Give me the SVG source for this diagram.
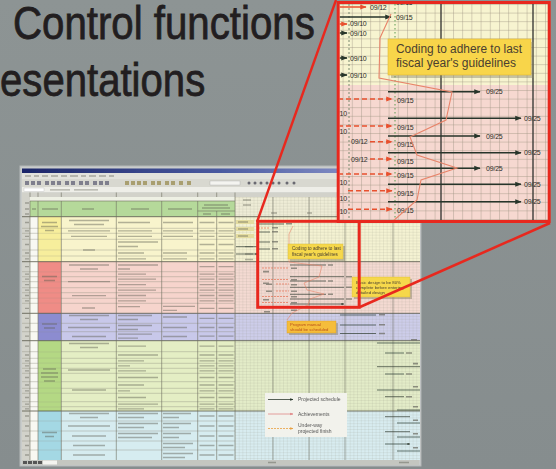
<svg xmlns="http://www.w3.org/2000/svg" width="556" height="469" viewBox="0 0 556 469">
<defs>
<style>
.title{font-family:"Liberation Sans","Open Sans",sans-serif;fill:#221e20;stroke:#221e20;stroke-width:0.8;font-size:47px}
.lbl{font-family:"Liberation Sans","Noto Sans",sans-serif;font-size:7px;fill:#2e2e28;letter-spacing:-0.2px}
.zl{fill:none;stroke:#e8281e;stroke-width:3}
.sol{stroke:#27352a;stroke-width:1.6;fill:none;marker-end:url(#ah)}
.rsol{stroke:#e8502e;stroke-width:1.6;fill:none;marker-end:url(#ahr)}
.dsh{stroke:#e8502e;stroke-width:1.6;fill:none;stroke-dasharray:5 3;marker-end:url(#ahr)}
.msol{stroke:#2f3b30;stroke-width:0.7;fill:none;marker-end:url(#ah)}
.mdsh{stroke:#e8603e;stroke-width:0.6;fill:none;stroke-dasharray:2 1}
.tb{stroke:#5e5e52;stroke-width:1.3;opacity:0.45;fill:none}
.rowl{stroke:#8f8f80;stroke-width:0.4;fill:none}
.coll{stroke:#6e6e60;stroke-width:0.6;fill:none}
.grp{stroke:#555548;stroke-width:0.8;fill:none}
.mb{fill:#6a6a60;opacity:0.7}
.call{font-family:"Liberation Sans","Noto Sans",sans-serif;fill:#4a4030}
.leg{font-family:"Liberation Sans","Noto Sans",sans-serif;font-size:5px;fill:#555}
</style>
<marker id="ah" viewBox="0 0 10 10" refX="9" refY="5" markerWidth="4" markerHeight="4" orient="auto"><path d="M0,1L10,5L0,9z" fill="#27352a"/></marker>
<marker id="ahr" viewBox="0 0 10 10" refX="9" refY="5" markerWidth="4" markerHeight="4" orient="auto"><path d="M0,1L10,5L0,9z" fill="#e8502e"/></marker>
<marker id="ahp" viewBox="0 0 10 10" refX="9" refY="5" markerWidth="4" markerHeight="4" orient="auto"><path d="M0,1L10,5L0,9z" fill="#e08888"/></marker>
<marker id="aho" viewBox="0 0 10 10" refX="9" refY="5" markerWidth="4" markerHeight="4" orient="auto"><path d="M0,1L10,5L0,9z" fill="#e8a040"/></marker>
<linearGradient id="bg" x1="0" y1="0" x2="0" y2="1"><stop offset="0" stop-color="#8d9494"/><stop offset="1" stop-color="#868d8e"/></linearGradient>
<linearGradient id="tbar" x1="0" y1="0" x2="1" y2="0"><stop offset="0" stop-color="#1c2668"/><stop offset="0.5" stop-color="#4a5aa0"/><stop offset="1" stop-color="#a0a8d8"/></linearGradient>
<pattern id="gg" width="3.7" height="2.9" patternUnits="userSpaceOnUse" x="235" y="197"><path d="M0,0V2.9M0,0H3.7" stroke="#8c8c7c" stroke-width="0.35" opacity="0.7" fill="none"/></pattern>
<pattern id="ig" width="9.2" height="8.6" patternUnits="userSpaceOnUse" x="342.6" y="4"><path d="M0.5,0V8.6M0,0.5H9.2" stroke="#9c9480" stroke-width="0.8" opacity="0.5" fill="none"/></pattern>
<clipPath id="ic"><rect x="339.7" y="4" width="209.5" height="217.5"/></clipPath>
<filter id="soft" x="-2%" y="-2%" width="104%" height="104%"><feGaussianBlur stdDeviation="0.3"/></filter>
</defs>

<rect width="556" height="469" fill="url(#bg)"/>

<g id="title">
<text class="title" transform="matrix(0.856,0,0,1,13,39)" x="0" y="0">Control functions</text>
<text class="title" transform="matrix(0.854,0,0,1,0,96)" x="0" y="0">esentations</text>
</g>

<g id="spreadsheet" filter="url(#soft)">
<rect x="20" y="166" width="401" height="300" fill="#c9cccb" stroke="#b4b8b8"/>
<rect x="22" y="168.5" width="397" height="4.5" fill="url(#tbar)"/>
<rect x="22" y="173" width="397" height="6" fill="#e2e2dc"/>
<path class="tb" d="M25,176h6M34,176h5M42,176h6M51,176h7M61,176h6M70,176h8M81,176h5M89,176h7M99,176h7M109,176h5"/>
<rect x="22" y="179" width="397" height="8" fill="#d8d8d0"/>
<path d="M25,181h4v4h-4zM31,181h4v4h-4zM37,181h4v4h-4zM45,181h4v4h-4zM51,181h4v4h-4zM57,181h4v4h-4zM65,181h4v4h-4zM71,181h4v4h-4zM79,181h4v4h-4zM85,181h4v4h-4zM93,181h4v4h-4zM99,181h4v4h-4zM105,181h4v4h-4z" fill="#5a5a70" opacity="0.7"/>
<path d="M125,181h4v4h-4zM131,181h4v4h-4zM137,181h4v4h-4zM143,181h4v4h-4zM151,181h4v4h-4zM157,181h4v4h-4zM165,181h4v4h-4zM171,181h4v4h-4zM179,181h4v4h-4zM187,181h4v4h-4z" fill="#8a7a30" opacity="0.6"/>
<rect x="210" y="181" width="30" height="4" fill="#f4f4f0" stroke="#999" stroke-width="0.3"/>
<path d="M249,183m-1.5,0a1.5,1.5 0 1,0 3,0a1.5,1.5 0 1,0 -3,0M255,183m-1.5,0a1.5,1.5 0 1,0 3,0a1.5,1.5 0 1,0 -3,0M261,183m-1.5,0a1.5,1.5 0 1,0 3,0a1.5,1.5 0 1,0 -3,0M267,183m-1.5,0a1.5,1.5 0 1,0 3,0a1.5,1.5 0 1,0 -3,0M273,183m-1.5,0a1.5,1.5 0 1,0 3,0a1.5,1.5 0 1,0 -3,0M279,183m-1.5,0a1.5,1.5 0 1,0 3,0a1.5,1.5 0 1,0 -3,0M287,183m-1.5,0a1.5,1.5 0 1,0 3,0a1.5,1.5 0 1,0 -3,0M294,183m-1.5,0a1.5,1.5 0 1,0 3,0a1.5,1.5 0 1,0 -3,0" fill="#3a3a48" opacity="0.7"/>
<rect x="22" y="187" width="397" height="5.5" fill="#eeeee8"/>
<rect x="24" y="188" width="20" height="3.5" fill="#fff" stroke="#aaa" stroke-width="0.3"/>
<path class="tb" d="M50,189.8h20M74,189.8h24"/>
<rect x="22" y="192.5" width="397" height="4.5" fill="#d2d2ca"/>
<path class="coll" d="M30,192.5V197M38,192.5V197M61.3,192.5V197M116.3,192.5V197M161.7,192.5V197M197.7,192.5V197M216.7,192.5V197M235,192.5V197"/>
<rect x="22" y="197" width="8" height="263" fill="#d2d2ca"/>
<rect x="30" y="197" width="205" height="4" fill="#eef0e4"/>
<rect x="30" y="201" width="205" height="15.7" fill="#b5d99a"/>
<path class="coll" d="M30,201H235M197.7,211H235"/>
<path class="tb" d="M32,209h4M42,209h16M82,209h12M131,209h18M168,209h24M204,205h24M202,208h28M203,214h8M221,214h9"/>

<rect x="30" y="216.7" width="8" height="243.3" fill="#f8f8f2"/>
<rect x="38" y="216.7" width="23.3" height="45" fill="#f7ee9c"/>
<rect x="61.3" y="216.7" width="173.7" height="45" fill="#f8f4cc"/>
<rect x="38" y="261.7" width="23.3" height="51.6" fill="#ef8c86"/>
<rect x="61.3" y="261.7" width="173.7" height="51.6" fill="#f6d4cc"/>
<rect x="38" y="313.3" width="23.3" height="27.4" fill="#8c8cd0"/>
<rect x="61.3" y="313.3" width="173.7" height="27.4" fill="#c8c8ea"/>
<rect x="38" y="340.7" width="23.3" height="70.3" fill="#b4d884"/>
<rect x="61.3" y="340.7" width="173.7" height="70.3" fill="#e4eec4"/>
<rect x="38" y="411" width="23.3" height="49" fill="#a4d8e4"/>
<rect x="61.3" y="411" width="173.7" height="49" fill="#d6ecf0"/>

<rect x="235" y="197" width="185" height="19.7" fill="#eeecd6"/>
<rect x="235" y="216.7" width="185" height="45" fill="#f4f2d2"/>
<rect x="235" y="261.7" width="185" height="51.6" fill="#f4dad2"/>
<rect x="235" y="313.3" width="185" height="27.4" fill="#cdcdea"/>
<rect x="235" y="340.7" width="185" height="70.3" fill="#e3ecc8"/>
<rect x="235" y="411" width="185" height="49" fill="#d8ecf0"/>
<rect x="235" y="197" width="185" height="263" fill="url(#gg)"/>
<path d="M273,197V460M309,197V460M345,197V460M393,197V460" stroke="#6a6a60" stroke-width="0.7" opacity="0.8"/>

<path class="rowl" d="M22,228.3H235M22,233.3H235M22,239.3H235M22,250H235M22,256H235M22,271.7H235M22,276.7H235M22,281.7H235M22,287.7H235M22,292.7H235M22,298.3H235M22,303.3H235M22,323.3H235M22,331.7H235M22,351.7H235M22,358.3H235M22,363.3H235M22,368.3H235M22,373.3H235M22,381.7H235M22,388.3H235M22,393.3H235M22,401.7H235M22,406.7H235M22,421H235M22,431H235M22,441H235M22,450H235"/>
<path d="M38.2,228H61M38.2,233H61M38.2,239H61M38.2,250H61M38.2,256H61" stroke="#f7ee9c" stroke-width="0.8"/>
<path d="M38.2,271.7H61M38.2,276.7H61M38.2,281.7H61M38.2,287.7H61M38.2,292.7H61M38.2,298.3H61M38.2,303.3H61" stroke="#ef8c86" stroke-width="0.8"/>
<path d="M38.2,323.3H61M38.2,331.7H61" stroke="#8c8cd0" stroke-width="0.8"/>
<path d="M38.2,351.7H61M38.2,358.3H61M38.2,363.3H61M38.2,368.3H61M38.2,373.3H61M38.2,381.7H61M38.2,388.3H61M38.2,393.3H61M38.2,401.7H61M38.2,406.7H61" stroke="#b4d884" stroke-width="0.8"/>
<path d="M38.2,421H61M38.2,431H61M38.2,441H61M38.2,450H61" stroke="#a4d8e4" stroke-width="0.8"/>
<path class="grp" d="M22,216.7H420M22,261.7H420M22,313.3H420M22,340.7H420M22,411H420"/>
<path class="coll" d="M30,201V460M38,201V460M61.3,201V460M116.3,201V460M161.7,201V460M197.7,201V460M216.7,211V460M235,197V460"/>

<path class="tb" d="M42,222.5h15M41,226.5h17M45,230.5h9M42,276.5h15M44,280.5h11M42,324h15M44,328h11M43,369h13M41,373h17M41,377h17M44,381h11M42,432.5h15M45,436.5h9"/>
<path class="tb" d="M69,220.5h40M74,224.5h30M68,230.8h42M71,236.3h36M83,250h12M69,265h40M80,269h18M68,281.7h42M72,295.7h34M82,308h13M69,315.5h40M80,319.5h18M68,327.5h42M72,336.5h34M69,343.5h40M80,347.5h18M68,370h42M72,390h34M69,413.5h40M80,417.5h18M68,426h42M72,436h34M73,445.5h32M73,455h32"/>
<path class="tb" d="M118,222.5h32M118,230.8h34M118,236.3h34M118,242h40M118,246.5h20M118,253h26M118,258.8h28M118,265h40M118,269h12M118,274.2h28M118,279.2h38M118,284.7h28M118,290.2h38M118,295.5h28M118,300.8h28M118,306.7h22M118,315.5h34M118,319.5h20M118,325.5h34M118,329.5h20M118,334.2h34M118,338.2h20M118,346.2h28M118,355h40M118,360.8h26M118,365.8h12M118,370.8h28M118,377.5h40M118,385h26M118,390.8h12M118,397.5h28M118,404.2h40M118,408.8h26M118,413.5h40M118,417.5h26M118,423.5h40M118,427.5h26M118,433.5h40M118,437.5h34"/>
<path class="tb" d="M163,222.5h30M163,230.8h30M163,236.3h30M163,253h24M163,258.8h24M163,306.3h32M163,310.3h14M163,317h24M163,327.5h24M163,336.5h24M163,413.5h28M163,417.5h16M163,423.5h28M163,427.5h16M163,433.5h28M163,437.5h16M163,443.5h30M163,447.5h22M163,453.5h30M163,457.5h22"/>
<path class="tb" d="M199.5,222.5h15M199.5,230.8h15M199.5,236.3h15M199.5,244.5h15M199.5,253h15M199.5,258.8h15M199.5,266.7h15M199.5,274.2h15M199.5,279.2h15M199.5,284.7h15M199.5,290.2h15M199.5,295.5h15M199.5,300.8h15M199.5,308.3h15M199.5,318.3h15M199.5,327.5h15M199.5,336.2h15M199.5,346.2h15M199.5,355h15M199.5,360.8h15M199.5,365.8h15M199.5,370.8h15M199.5,377.5h15M199.5,385h15M199.5,390.8h15M199.5,397.5h15M199.5,404.2h15M199.5,408.8h15M199.5,416h15M199.5,426h15M199.5,436h15M199.5,445.5h15M199.5,455h15"/>
<path class="tb" d="M218.5,222.5h15M218.5,230.8h15M218.5,236.3h15M218.5,244.5h15M218.5,253h15M218.5,258.8h15M218.5,266.7h15M218.5,274.2h15M218.5,279.2h15M218.5,284.7h15M218.5,290.2h15M218.5,295.5h15M218.5,300.8h15M218.5,308.3h15M218.5,318.3h15M218.5,327.5h15M218.5,336.2h15M218.5,346.2h15M218.5,355h15M218.5,360.8h15M218.5,365.8h15M218.5,370.8h15M218.5,377.5h15M218.5,385h15M218.5,390.8h15M218.5,397.5h15M218.5,404.2h15M218.5,408.8h15M218.5,416h15M218.5,426h15M218.5,436h15M218.5,445.5h15M218.5,455h15"/>
<path class="tb" d="M25,222.5h4M25,230.8h4M25,236.3h4M25,244.5h4M25,253h4M25,258.8h4M25,266.7h4M25,274.2h4M25,279.2h4M25,284.7h4M25,290.2h4M25,295.5h4M25,300.8h4M25,308.3h4M25,318.3h4M25,327.5h4M25,336.2h4M25,346.2h4M25,355h4M25,360.8h4M25,365.8h4M25,370.8h4M25,377.5h4M25,385h4M25,390.8h4M25,397.5h4M25,404.2h4M25,408.8h4M25,416h4M25,426h4M25,436h4M25,445.5h4M25,455h4M25,203h4M25,209h4M25,214h4"/>

<rect x="236" y="220" width="18" height="4" fill="#e4dca0"/>
<rect x="236" y="227" width="18" height="4" fill="#e4dca0"/>
<rect x="236" y="234" width="18" height="4" fill="#e4dca0"/>
<path class="tb" d="M238,222h10M238,229h10M238,236h10M245,246.7h8M245,254h8M245,259.5h8M271,213h6M307,213h5M243,200h8M243,205h8"/>
<path class="msol" d="M236,246.7H258M236,254H258"/>

<path class="msol" d="M258,224H284M258,232H270M258,242H270M258,249H270M290,265H326M290,276.7H344M290,281H326M290,287.3H344M290,294.3H326M290,299H344M290,304H344"/>
<path class="mdsh" d="M258,228H270M262,268H289M262,279.5H289M276,284H289M276,291H289M262,296.5H289M262,302.5H289"/>
<path class="mb" d="M272,227h6v1.6h-6zM272,231h6v1.6h-6zM272,241h6v1.6h-6zM272,248h6v1.6h-6zM286,223h6v1.6h-6zM291,267.5h6v1.6h-6zM291,279h6v1.6h-6zM291,284h6v1.6h-6zM291,290.5h6v1.6h-6zM291,296h6v1.6h-6zM291,302h6v1.6h-6zM328,264.2h5v1.6h-5zM328,280.2h5v1.6h-5zM328,293.5h5v1.6h-5zM346,275.9h6v1.6h-6zM346,286.5h6v1.6h-6zM346,298.2h6v1.6h-6zM263,270.8h6v1.6h-6zM263,282.5h6v1.6h-6zM266,283.5h6v1.6h-6zM266,290.5h6v1.6h-6zM263,299h6v1.6h-6zM291,309.5h6v1.6h-6zM264,311h6v1.6h-6z"/>
<polyline points="293,226 289,234 289,262 322,266 319,277 304,283 307,290 324,294 310,299 308,305 292,313 287,320" fill="none" stroke="#e8846a" stroke-width="0.6"/>
</g>

<g id="callout-mini" filter="url(#soft)">
<rect x="290" y="246" width="55" height="15" fill="#8a8468" opacity="0.5"/>
<rect x="288" y="244" width="55" height="15" fill="#f6d84c" stroke="#d8b838" stroke-width="0.4"/>
<text class="call" x="292" y="250" font-size="4.6">Coding to adhere to last</text>
<text class="call" x="292" y="256" font-size="4.6">fiscal year's guidelines</text>
</g>

<g id="callout-80" filter="url(#soft)">
<rect x="354" y="279" width="58" height="20" fill="#8a8468" opacity="0.5"/>
<rect x="352" y="277" width="58" height="20" fill="#f6d84c" stroke="#d8b838" stroke-width="0.4"/>
<text class="call" x="356" y="283.5" font-size="4.3">Basic design to be 80%</text>
<text class="call" x="356" y="288.5" font-size="4.3">complete before entering</text>
<text class="call" x="356" y="293.5" font-size="4.3">detailed design</text>
</g>

<g id="callout-program" filter="url(#soft)">
<rect x="289" y="323" width="49" height="12" fill="#8a8468" opacity="0.5"/>
<rect x="287" y="321" width="49" height="12" fill="#f5bd3a" stroke="#d89a28" stroke-width="0.4"/>
<text class="call" x="290" y="326.3" font-size="4.2" style="fill:#b8501a">Program manual</text>
<text class="call" x="290" y="331.3" font-size="4.2" style="fill:#b8501a">should be scheduled</text>
</g>

<g id="gantt-lower" filter="url(#soft)">
<path class="msol" d="M340,315H376M340,325H376M340,333.5H376M385,353H404M385,374H404M385,396.7H404M385,416.7H410M385,431.7H410M385,444H410"/>
<path d="M377,343H420M377,366.7H420M377,390H420M397,410H420M397,423H420M397,437H420M397,451H420" stroke="#2f3b30" stroke-width="0.7"/>
<path class="mb" d="M379,314h6v1.6h-6zM379,324h6v1.6h-6zM379,332.7h6v1.6h-6zM411,339h6v1.6h-6zM406,352.2h6v1.6h-6zM413,362.8h5v1.6h-5zM406,373.2h6v1.6h-6zM413,386h5v1.6h-5zM406,395.9h6v1.6h-6zM413,406h5v1.6h-5zM413,419.5h5v1.6h-5zM413,433h5v1.6h-5zM413,447h5v1.6h-5z"/>
</g>

<g id="legend" filter="url(#soft)">
<rect x="265" y="393" width="82" height="44" fill="#f2f2ec"/>
<line x1="268" y1="399.5" x2="293" y2="399.5" stroke="#2f3b30" stroke-width="0.8" marker-end="url(#ah)"/>
<line x1="268" y1="414" x2="293" y2="414" stroke="#e08888" stroke-width="0.8" marker-end="url(#ahp)"/>
<line x1="268" y1="428.5" x2="293" y2="428.5" stroke="#e8a040" stroke-width="0.8" stroke-dasharray="2 1" marker-end="url(#aho)"/>
<text class="leg" x="298" y="401.3">Projected schedule</text>
<text class="leg" x="298" y="415.8">Achievements</text>
<text class="leg" x="298" y="427">Under-way</text>
<text class="leg" x="298" y="432.5">projected finish</text>
</g>

<g id="statusbar" filter="url(#soft)">
<rect x="22" y="460" width="397" height="5" fill="#c4c6c0"/>
<path d="M23,461h4v3h-4zM28,461h4v3h-4zM33,461h4v3h-4zM38,461h4v3h-4z" fill="#555"/>
<rect x="43" y="460.5" width="14" height="4" fill="#f4f4f0"/>
<path class="tb" d="M268,462.5h8M399,462.5h10"/>
</g>

<g id="zoom-connectors">
<line x1="336" y1="0" x2="257" y2="222" stroke="#e8281e" stroke-width="2.4"/>
<line x1="550" y1="223" x2="360" y2="307" stroke="#e8281e" stroke-width="2.6"/>
<rect class="zl" x="257.7" y="221.3" width="101.5" height="86"/>
</g>

<g id="inset">
<rect x="338.2" y="2.5" width="211" height="219" fill="#f7f4d0"/>
<rect x="338.2" y="85" width="211" height="137" fill="#f6d8d0"/>
<g clip-path="url(#ic)">
<rect x="338.2" y="2.5" width="211" height="219" fill="url(#ig)"/>
<line x1="441" y1="0" x2="441" y2="225" stroke="#3c3c38" stroke-width="1.4"/>
<line x1="533" y1="0" x2="533" y2="225" stroke="#3c3c38" stroke-width="1.4"/>
<line x1="349" y1="0" x2="349" y2="225" stroke="#7a8a70" stroke-width="1" stroke-dasharray="2 2"/>
<line x1="395" y1="0" x2="395" y2="225" stroke="#5a9a50" stroke-width="1" stroke-dasharray="1.5 2.5"/>

<line class="rsol" x1="330" y1="7" x2="366" y2="7"/>
<line class="sol" x1="330" y1="17" x2="391" y2="17"/>
<line class="rsol" x1="330" y1="24" x2="347" y2="24"/>
<line class="sol" x1="330" y1="33" x2="347" y2="33"/>
<line class="sol" x1="330" y1="58" x2="347" y2="58"/>
<line class="sol" x1="330" y1="75" x2="347" y2="75"/>
<text class="lbl" x="396" y="4.5">09/15</text>
<text class="lbl" x="370" y="9.5">09/12</text>
<text class="lbl" x="396" y="19.5">09/15</text>
<text class="lbl" x="350" y="26.3">09/10</text>
<text class="lbl" x="350" y="35.6">09/10</text>
<text class="lbl" x="350" y="60.5">09/10</text>
<text class="lbl" x="350" y="77.5">09/10</text>

<line class="sol" x1="388" y1="91.7" x2="480" y2="91.7"/>
<line class="sol" x1="388" y1="118.3" x2="521" y2="118.3"/>
<line class="sol" x1="388" y1="136" x2="480" y2="136"/>
<line class="sol" x1="388" y1="152.7" x2="521" y2="152.7"/>
<line class="sol" x1="388" y1="168.3" x2="480" y2="168.3"/>
<line class="sol" x1="388" y1="184.3" x2="521" y2="184.3"/>
<line class="sol" x1="388" y1="201.7" x2="521" y2="201.7"/>
<text class="lbl" x="486" y="94.2">09/25</text>
<text class="lbl" x="524" y="120.8">09/25</text>
<text class="lbl" x="486" y="138.5">09/25</text>
<text class="lbl" x="524" y="155.2">09/25</text>
<text class="lbl" x="486" y="170.8">09/25</text>
<text class="lbl" x="524" y="186.8">09/25</text>
<text class="lbl" x="524" y="204.2">09/25</text>

<line class="dsh" x1="330" y1="99" x2="392" y2="99"/>
<line class="dsh" x1="330" y1="126" x2="392" y2="126"/>
<line class="dsh" x1="370" y1="141.7" x2="392" y2="141.7"/>
<line class="dsh" x1="370" y1="159" x2="392" y2="159"/>
<line class="dsh" x1="330" y1="174" x2="392" y2="174"/>
<line class="dsh" x1="348" y1="190.7" x2="392" y2="190.7"/>
<line class="dsh" x1="348" y1="209.3" x2="392" y2="209.3"/>
<text class="lbl" x="397" y="102.5">09/15</text>
<text class="lbl" x="397" y="129.5">09/15</text>
<text class="lbl" x="397" y="146.8">09/15</text>
<text class="lbl" x="397" y="164">09/15</text>
<text class="lbl" x="397" y="178.2">09/15</text>
<text class="lbl" x="397" y="195.8">09/15</text>
<text class="lbl" x="397" y="213.2">09/15</text>
<text class="lbl" x="351" y="144.2">09/12</text>
<text class="lbl" x="351" y="161.5">09/12</text>
<text class="lbl" x="347" y="115.8" text-anchor="end">09/10</text>
<text class="lbl" x="347" y="134.2" text-anchor="end">09/10</text>
<text class="lbl" x="347" y="185.2" text-anchor="end">09/10</text>
<text class="lbl" x="347" y="200.8" text-anchor="end">09/10</text>
<text class="lbl" x="347" y="214.2" text-anchor="end">09/10</text>

<polyline points="391,14 380,38 379,78 452,92 446,120 410,137 417,155 457,168 421,180 417,200 392,222" fill="none" stroke="#e8846a" stroke-width="1.1"/>

<rect x="391" y="42" width="143" height="36" fill="#8a8468" opacity="0.45"/>
<rect x="388" y="39" width="143" height="36" fill="#f8d54a" stroke="#e2b832" stroke-width="0.6"/>
<text class="call" x="396" y="53.3" font-size="12.3" textLength="126" lengthAdjust="spacingAndGlyphs">Coding to adhere to last</text>
<text class="call" x="396" y="66.5" font-size="12.3" textLength="120" lengthAdjust="spacingAndGlyphs">fiscal year's guidelines</text>
</g>
<rect class="zl" x="338.2" y="2.5" width="211" height="219"/>
</g>
</svg>
